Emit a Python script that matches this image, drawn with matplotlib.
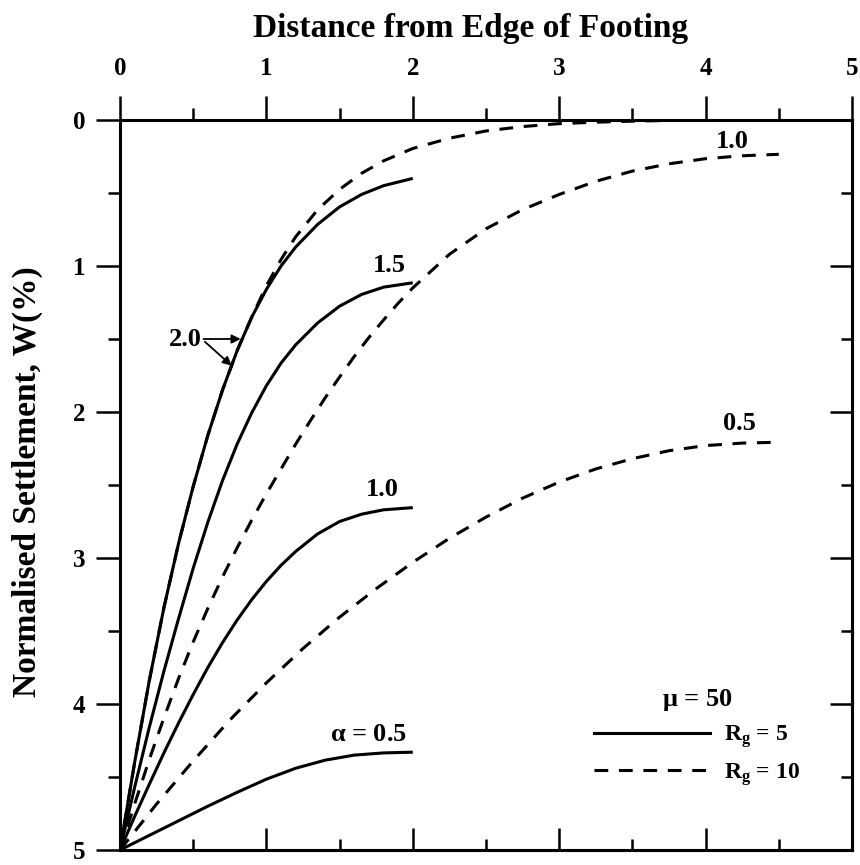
import numpy as np
import matplotlib
matplotlib.use("Agg")
import matplotlib.pyplot as plt
from matplotlib.lines import Line2D

plt.rcParams['font.family'] = ['Liberation Serif', 'DejaVu Serif']
plt.rcParams['font.weight'] = 'bold'
plt.rcParams['mathtext.fontset'] = 'custom'
plt.rcParams['mathtext.rm'] = 'Liberation Serif'
plt.rcParams['mathtext.bf'] = 'Liberation Serif:bold'
plt.rcParams['mathtext.it'] = 'Liberation Serif:italic'

# ---- data: Rg = 5 (solid), x from 0 to 2 ----
x_rg5_a20 = [0, 0.1, 0.2, 0.3, 0.4, 0.5, 0.6, 0.7, 0.8, 0.9, 1.0, 1.1, 1.2, 1.35, 1.5, 1.65, 1.8, 2.0]
w_rg5_a20 = [5.0, 4.40, 3.84, 3.34, 2.90, 2.51, 2.16, 1.85, 1.58, 1.35, 1.16, 1.00, 0.87, 0.715, 0.595, 0.51, 0.45, 0.40]

x_rg5_a15 = [0, 0.1, 0.2, 0.3, 0.4, 0.5, 0.6, 0.7, 0.8, 0.9, 1.0, 1.1, 1.2, 1.35, 1.5, 1.65, 1.8, 2.0]
w_rg5_a15 = [5.0, 4.57, 4.16, 3.775, 3.415, 3.07, 2.755, 2.47, 2.22, 2.005, 1.82, 1.665, 1.54, 1.39, 1.275, 1.195, 1.145, 1.115]

x_rg5_a10 = [0, 0.1, 0.2, 0.3, 0.4, 0.5, 0.6, 0.7, 0.8, 0.9, 1.0, 1.1, 1.2, 1.35, 1.5, 1.65, 1.8, 2.0]
w_rg5_a10 = [5.0, 4.77, 4.55, 4.335, 4.13, 3.935, 3.75, 3.58, 3.425, 3.285, 3.16, 3.05, 2.955, 2.835, 2.75, 2.70, 2.67, 2.655]

x_rg5_a05 = [0, 0.2, 0.4, 0.6, 0.8, 1.0, 1.2, 1.4, 1.6, 1.8, 2.0]
w_rg5_a05 = [5.0, 4.90, 4.80, 4.70, 4.605, 4.515, 4.44, 4.385, 4.35, 4.335, 4.33]

# ---- data: Rg = 10 (dashed), x from 0 to 4.5 ----
x_rg10_a20 = [0, 0.1, 0.2, 0.3, 0.4, 0.5, 0.6, 0.7, 0.8, 0.9, 1.0, 1.1, 1.2, 1.35, 1.5, 1.65, 1.8, 2.0,
              2.25, 2.5, 2.75, 3.0, 3.25, 3.5, 3.75, 4.0, 4.25, 4.5]
w_rg10_a20 = [5.0, 4.40, 3.84, 3.34, 2.90, 2.51, 2.16, 1.85, 1.58, 1.35, 1.135, 0.955, 0.80, 0.615, 0.475, 0.365, 0.28, 0.195,
              0.125, 0.075, 0.045, 0.025, 0.015, 0.008, 0.003, 0.0, 0.0, 0.0]

x_rg10_a10 = [0, 0.1, 0.2, 0.3, 0.4, 0.5, 0.6, 0.7, 0.8, 0.9, 1.0, 1.1, 1.2, 1.3, 1.4, 1.5, 1.6, 1.7, 1.8, 1.9, 2.0,
              2.25, 2.5, 2.75, 3.0, 3.25, 3.5, 3.75, 4.0, 4.25, 4.5]
w_rg10_a10 = [5.0, 4.685, 4.38, 4.095, 3.825, 3.575, 3.345, 3.13, 2.93, 2.74, 2.56, 2.39, 2.22, 2.06, 1.905, 1.76,
              1.62, 1.49, 1.37, 1.255, 1.15, 0.92, 0.745, 0.614, 0.51, 0.42, 0.35, 0.30, 0.265, 0.245, 0.235]

x_rg10_a05 = [0, 0.25, 0.5, 0.75, 1.0, 1.25, 1.5, 1.75, 2.0, 2.25, 2.5, 2.75, 3.0, 3.25, 3.5, 3.75, 4.0, 4.25, 4.5]
w_rg10_a05 = [5.0, 4.685, 4.39, 4.11, 3.855, 3.62, 3.405, 3.21, 3.03, 2.865, 2.72, 2.59, 2.48, 2.39, 2.32, 2.265,
              2.23, 2.213, 2.207]

# ---- annotations ----
label_texts = ["2.0", "1.5", "1.0", r"$\mathrm{\alpha}$ = 0.5", "1.0", "0.5"]
label_x = [0.444, 1.84, 1.793, 1.70, 4.18, 4.23]
label_y = [1.547, 1.044, 2.572, 4.256, 0.191, 2.12]

arrow_from = [(0.57, 1.50), (0.58, 1.519)]
arrow_to = [(0.824, 1.50), (0.763, 1.683)]

x_ticks = [0, 1, 2, 3, 4, 5]
y_ticks = [0, 1, 2, 3, 4, 5]
minor_ticks = [0.5, 1.5, 2.5, 3.5, 4.5]

legend_title = r"$\mathrm{\mu}$ = 50"
legend_labels = [r"$\mathbf{R_g}$ = 5", r"$\mathbf{R_g}$ = 10"]

LW = 2.2
DASH = (4.5, 3.5)

fig = plt.figure(figsize=(8.6, 8.65), dpi=100)
ax = fig.add_axes([120 / 860, 15 / 865, 732 / 860, 730 / 865])

solid = [(x_rg5_a20, w_rg5_a20), (x_rg5_a15, w_rg5_a15), (x_rg5_a10, w_rg5_a10), (x_rg5_a05, w_rg5_a05)]
dashed = [(x_rg10_a20, w_rg10_a20), (x_rg10_a10, w_rg10_a10), (x_rg10_a05, w_rg10_a05)]
for xs, ws in solid:
    ax.plot(xs, ws, color='k', lw=LW, solid_capstyle='butt', solid_joinstyle='round')
for xs, ws in dashed:
    ax.plot(xs, ws, color='k', lw=LW, dashes=DASH, dash_capstyle='butt', dash_joinstyle='round')

for t, lx, ly in zip(label_texts, label_x, label_y):
    ax.text(lx, ly, t, ha='center', va='baseline', fontsize=19, fontweight='bold')

for (x0, y0), (x1, y1) in zip(arrow_from, arrow_to):
    ax.annotate('', xy=(x1, y1), xytext=(x0, y0),
                arrowprops=dict(arrowstyle='-|>', color='k', lw=1.3, mutation_scale=13,
                                shrinkA=0, shrinkB=0))

ax.set_xlim(0, 5)
ax.set_ylim(5, 0)
ax.xaxis.tick_top()
ax.set_xticks(x_ticks)
ax.set_xticks(minor_ticks, minor=True)
ax.set_yticks(y_ticks)
ax.set_yticks(minor_ticks, minor=True)
ax.set_xticklabels([str(v) for v in x_ticks])
ax.set_yticklabels([str(v) for v in y_ticks])
ax.tick_params(which='major', direction='out', length=17, width=1.8, labelsize=18)
ax.tick_params(which='minor', direction='out', length=8.5, width=1.8)
ax.tick_params(axis='x', which='major', pad=12)
ax.tick_params(axis='y', which='major', pad=8)
for lab in ax.get_xticklabels() + ax.get_yticklabels():
    lab.set_fontweight('bold')
for s in ax.spines.values():
    s.set_linewidth(2.2)

secx = ax.secondary_xaxis('bottom')
secx.set_xticks(x_ticks)
secx.set_xticks(minor_ticks, minor=True)
secx.tick_params(which='major', direction='in', length=16, width=1.8, labelbottom=False)
secx.tick_params(which='minor', direction='in', length=8, width=1.8)
secx.spines['bottom'].set_linewidth(2.2)

secy = ax.secondary_yaxis('right')
secy.set_yticks(y_ticks)
secy.set_yticks(minor_ticks, minor=True)
secy.tick_params(which='major', direction='in', length=16, width=1.8, labelright=False)
secy.tick_params(which='minor', direction='in', length=8, width=1.8)
secy.spines['right'].set_linewidth(2.2)

fig.text(471 / 860, 1 - 37 / 865, 'Distance from Edge of Footing', ha='center', va='baseline',
         fontsize=24, fontweight='bold')
fig.text(27 / 860, 1 - 482 / 865, 'Normalised Settlement, W(%)', rotation=90, ha='center', va='center',
         fontsize=24, fontweight='bold')

handles = [Line2D([], [], color='k', lw=LW),
           Line2D([], [], color='k', lw=LW, dashes=DASH)]
leg = ax.legend(handles, legend_labels, title=legend_title, loc='upper center',
                bbox_to_anchor=((697 - 120) / 732, (850 - 687) / 730), frameon=False,
                prop={'size': 17, 'weight': 'bold'}, title_fontproperties={'size': 19, 'weight': 'bold'},
                handlelength=4.9, handletextpad=0.58, labelspacing=0.45, borderpad=0, borderaxespad=0)

fig.savefig('out.png', dpi=100)
